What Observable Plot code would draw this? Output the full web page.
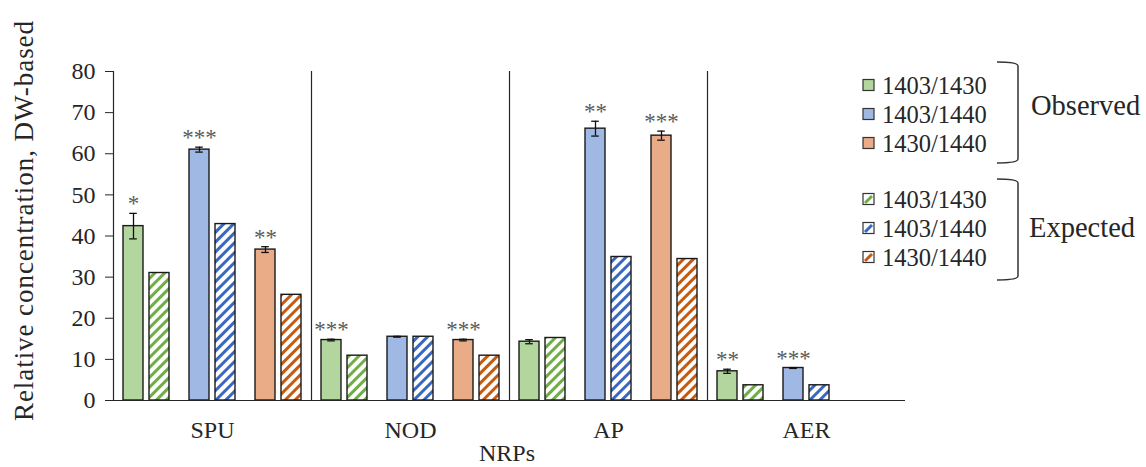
<!DOCTYPE html>
<html>
<head>
<meta charset="utf-8">
<script src="https://cdn.jsdelivr.net/npm/d3@7"></script>
<script src="https://cdn.jsdelivr.net/npm/@observablehq/plot@0.6"></script>
<style>
  html, body { margin: 0; padding: 0; background: #fff; }
  #wrap { position: relative; width: 1146px; height: 467px; overflow: hidden; font-family: "Liberation Serif", "Times New Roman", serif; }
  #overlay { position: absolute; left: 0; top: 0; pointer-events: none; }
  #chart svg, #chart svg text { font-family: "Liberation Serif", "Times New Roman", serif !important; }
</style>
</head>
<body>
<div id="wrap">
  <svg width="0" height="0" style="position:absolute">
    <defs>
      <pattern id="hatch-g" patternUnits="userSpaceOnUse" width="7" height="7" patternTransform="rotate(45)">
        <rect width="7" height="7" fill="#fff"/><line x1="1.5" y1="0" x2="1.5" y2="7" stroke="#70ad47" stroke-width="3"/>
      </pattern>
      <pattern id="hatch-b" patternUnits="userSpaceOnUse" width="7" height="7" patternTransform="rotate(45)">
        <rect width="7" height="7" fill="#fff"/><line x1="1.5" y1="0" x2="1.5" y2="7" stroke="#3a68c0" stroke-width="3"/>
      </pattern>
      <pattern id="hatch-o" patternUnits="userSpaceOnUse" width="7" height="7" patternTransform="rotate(45)">
        <rect width="7" height="7" fill="#fff"/><line x1="1.5" y1="0" x2="1.5" y2="7" stroke="#c55a11" stroke-width="3"/>
      </pattern>
    </defs>
  </svg>
  <div id="chart"></div>
  <svg id="overlay" width="1146" height="467"></svg>
</div>
<script>
// ---- data ----
const categories = ["SPU", "NOD", "AP", "AER"];
const seriesNames = ["1403/1430", "1403/1440", "1430/1440"];
const yTicks = [0, 10, 20, 30, 40, 50, 60, 70, 80];

// observed means per category (SPU, NOD, AP, AER)
const obs_1403_1430 = [42.4, 14.7, 14.3, 7.1];
const obs_1403_1440 = [61.0, 15.5, 66.1, 7.9];
const obs_1430_1440 = [36.7, 14.7, 64.4, null];
// error (±) of observed
const err_1403_1430 = [3.1, 0.2, 0.5, 0.5];
const err_1403_1440 = [0.6, 0.1, 1.8, 0.1];
const err_1430_1440 = [0.7, 0.2, 1.1, null];
// expected values
const exp_1403_1430 = [31.0, 10.9, 15.2, 3.7];
const exp_1403_1440 = [42.9, 15.5, 34.9, 3.7];
const exp_1430_1440 = [25.7, 10.9, 34.4, null];
// significance marks
const sig_1403_1430 = ["*", "***", "", "**"];
const sig_1403_1440 = ["***", "", "**", "***"];
const sig_1430_1440 = ["**", "***", "***", ""];

// ---- styles ----
const solidColors = ["#b3d69e", "#a0b8e4", "#eaab87"];
const hatchFills = ["url(#hatch-g)", "url(#hatch-b)", "url(#hatch-o)"];
const hatchColors = ["#70ad47", "#3a68c0", "#c55a11"];

const obsArr = [obs_1403_1430, obs_1403_1440, obs_1430_1440];
const errArr = [err_1403_1430, err_1403_1440, err_1430_1440];
const expArr = [exp_1403_1430, exp_1403_1440, exp_1430_1440];
const sigArr = [sig_1403_1430, sig_1403_1440, sig_1430_1440];

const obsRows = [], expRows = [];
categories.forEach((cat, ci) => {
  seriesNames.forEach((s, si) => {
    if (obsArr[si][ci] != null) obsRows.push({cat, series: s, si, value: obsArr[si][ci], err: errArr[si][ci], sig: sigArr[si][ci]});
    if (expArr[si][ci] != null) expRows.push({cat, series: s, si, value: expArr[si][ci]});
  });
});

const BAR_IN = 26;   // inset to leave a ~20px bar inside the series band
const DX = -13;      // offset from band centre to observed bar centre
const SERIF = "'Liberation Serif', 'Times New Roman', serif";

const chart = Plot.plot({
  width: 1146,
  height: 467,
  marginLeft: 113,
  marginRight: 241,
  marginTop: 71,
  marginBottom: 67,
  style: {fontFamily: SERIF, fontSize: "24px", color: "#262626", background: "transparent", overflow: "visible"},
  fx: {domain: categories, paddingInner: 0, paddingOuter: 0, label: null, axis: "bottom", tickSize: 0, tickPadding: 20},
  x: {domain: seriesNames, paddingInner: 0.3, paddingOuter: 0.143, axis: null},
  y: {domain: [0, 80], ticks: yTicks, tickSize: 8, tickPadding: 10, label: null},
  color: {type: "identity"},
  marks: [
    Plot.barY(obsRows, {fx: "cat", x: "series", y: "value", fill: d => solidColors[d.si], stroke: "#1a1a1a", strokeWidth: 1.4, insetRight: BAR_IN}),
    Plot.barY(expRows, {fx: "cat", x: "series", y: "value", fill: d => hatchFills[d.si], stroke: "#1a1a1a", strokeWidth: 1.4, insetLeft: BAR_IN}),
    Plot.ruleX(obsRows, {fx: "cat", x: "series", y1: d => d.value - d.err, y2: d => d.value + d.err, dx: DX, stroke: "#111", strokeWidth: 1.3}),
    Plot.tickY(obsRows, {fx: "cat", x: "series", y: d => d.value + d.err, insetLeft: 6.2, insetRight: 32.2, stroke: "#111", strokeWidth: 1.3}),
    Plot.tickY(obsRows, {fx: "cat", x: "series", y: d => d.value - d.err, insetLeft: 6.2, insetRight: 32.2, stroke: "#111", strokeWidth: 1.3}),
    Plot.text(obsRows.filter(d => d.sig), {fx: "cat", x: "series", y: d => d.value + d.err, text: "sig", dx: DX, dy: -2, lineAnchor: "bottom", fill: "#5a5a5a", fontSize: 23}),
    Plot.frame({anchor: "left", stroke: "#262626", strokeWidth: 1.2}),
    Plot.ruleY([0], {stroke: "#262626", strokeWidth: 1.2})
  ]
});
document.getElementById("chart").appendChild(chart);

// ---- legend, brackets and axis titles (overlay) ----
const ov = d3.select("#overlay");
ov.append("text")
  .attr("transform", "translate(33,221) rotate(-90)")
  .attr("text-anchor", "middle")
  .attr("font-family", SERIF).attr("font-size", 27).attr("fill", "#262626")
  .attr("textLength", 400).attr("lengthAdjust", "spacing")
  .text("Relative concentration, DW-based");
ov.append("text")
  .attr("x", 507).attr("y", 461).attr("text-anchor", "middle")
  .attr("font-family", SERIF).attr("font-size", 24).attr("fill", "#262626")
  .text("NRPs");

const rowY = [85, 114, 143, 199, 228, 257];
const legendItems = [];
seriesNames.forEach((s, i) => legendItems.push({label: s, kind: "obs", i}));
seriesNames.forEach((s, i) => legendItems.push({label: s, kind: "exp", i}));
legendItems.forEach((d, k) => {
  const y = rowY[k];
  const g = ov.append("g");
  g.append("rect").attr("x", 863).attr("y", y - 5.5).attr("width", 11).attr("height", 11)
    .attr("fill", d.kind === "obs" ? solidColors[d.i] : "#fff")
    .attr("stroke", "#333").attr("stroke-width", 1.2);
  if (d.kind === "exp") {
    g.append("line").attr("x1", 865).attr("y1", y + 4).attr("x2", 872).attr("y2", y - 3)
      .attr("stroke", hatchColors[d.i]).attr("stroke-width", 3);
  }
  g.append("text").attr("x", 882).attr("y", y + 8.5)
    .attr("font-family", SERIF).attr("font-size", 24.5).attr("fill", "#262626")
    .text(d.label);
});
const brackets = [{y1: 62, y2: 163, label: "Observed", tx: 1031, ty: 115}, {y1: 179, y2: 280, label: "Expected", tx: 1029, ty: 237}];
brackets.forEach(b => {
  ov.append("path")
    .attr("d", `M997,${b.y1} Q1018,${b.y1} 1018,${b.y1 + 4} L1018,${b.y2 - 4} Q1018,${b.y2} 997,${b.y2}`)
    .attr("fill", "none").attr("stroke", "#333").attr("stroke-width", 1.5);
  ov.append("text").attr("x", b.tx).attr("y", b.ty)
    .attr("font-family", SERIF).attr("font-size", 28.5).attr("fill", "#262626")
    .text(b.label);
});
</script>
</body>
</html>
